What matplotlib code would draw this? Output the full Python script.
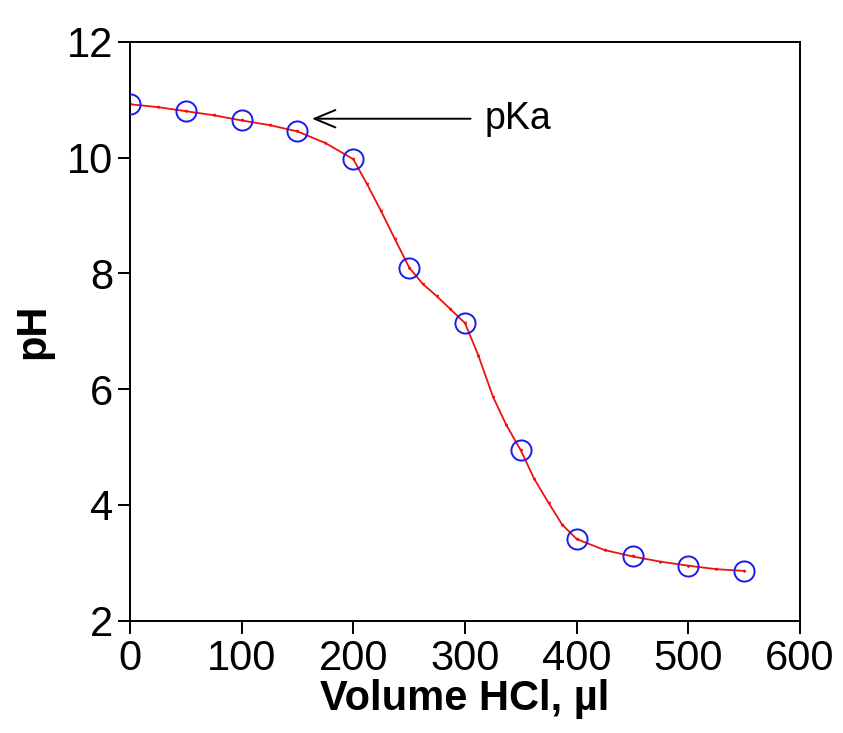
import matplotlib
matplotlib.use('Agg')
import matplotlib.pyplot as plt

plt.rcParams['font.family'] = ['Liberation Sans', 'DejaVu Sans']

# measured points
vol = [0, 50, 100, 150, 200, 250, 300, 350, 400, 450, 500, 550]
ph = [10.92, 10.80, 10.64, 10.45, 9.97, 8.10, 7.14, 4.94, 3.41, 3.11, 2.95, 2.86]

# fitted curve
fit_vol = [0, 25, 50, 75, 100, 125, 150, 175, 200, 212, 225, 237, 250, 262, 275,
           287, 300, 312, 325, 337, 350, 362, 375, 387, 400, 425, 450, 475, 500, 525, 550]
fit_ph = [10.92, 10.87, 10.80, 10.73, 10.64, 10.56, 10.45, 10.25, 9.97, 9.55, 9.07, 8.60,
          8.10, 7.82, 7.60, 7.38, 7.14, 6.58, 5.87, 5.38, 4.94, 4.45, 4.03, 3.66, 3.41,
          3.22, 3.11, 3.02, 2.95, 2.89, 2.86]

fig = plt.figure(figsize=(8.43, 7.33), dpi=100)
ax = fig.add_axes([0.1542, 0.1532, 0.7948, 0.7899])

ax.plot(fit_vol, fit_ph, color='#ee1111', lw=1.3, marker='v', ms=1.5, zorder=2)
ax.plot(vol, ph, ls='none', marker='o', ms=14.5, mfc='none', mec='#1a1aee', mew=1.4, zorder=3)

ax.annotate('', xy=(163, 10.67), xytext=(305, 10.67),
            arrowprops=dict(arrowstyle='->, head_length=0.6, head_width=0.25', color='black',
                            lw=1.4, mutation_scale=25, shrinkA=0, shrinkB=0))
ax.text(318, 10.67, 'pKa', fontsize=27, va='center', ha='left')

ax.set_xlim(0, 600)
ax.set_ylim(2, 12)
ax.set_xticks([0, 100, 200, 300, 400, 500, 600])
ax.set_yticks([2, 4, 6, 8, 10, 12])

for s in ax.spines.values():
    s.set_linewidth(1.4)
ax.tick_params(direction='out', length=9, width=1.4, labelsize=30)
ax.tick_params(axis='x', pad=4)
ax.tick_params(axis='y', pad=3)

ax.set_xlabel('Volume HCl, \u00b5l', fontsize=30, fontweight='bold', labelpad=0)
ax.set_ylabel('pH', fontsize=30, fontweight='bold', labelpad=10)

fig.savefig('out.png', dpi=100)
